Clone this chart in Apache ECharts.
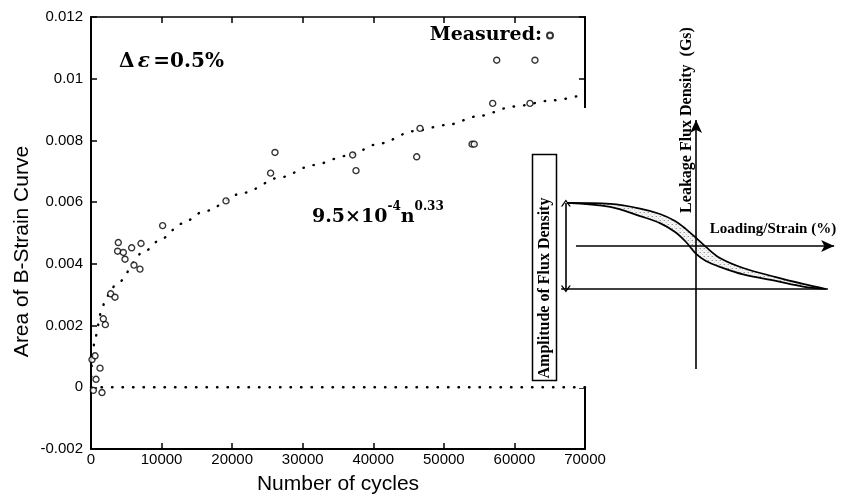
<!DOCTYPE html>
<html>
<head>
<meta charset="utf-8">
<script src="https://cdn.jsdelivr.net/npm/echarts@6/dist/echarts.min.js"></script>
<style>
  html, body { margin: 0; padding: 0; background: #fff; }
  #chart { width: 843px; height: 500px; }
</style>
</head>
<body>
<div id="chart"></div>
<script>
// Measured B-strain loop area against number of loading cycles
const cycles = [140, 330, 570, 710, 1280, 1560, 1745, 2030, 2790, 3400, 3770, 3870, 4580, 4820,
  5760, 6090, 6940, 7085, 10150, 19130, 25450, 26070, 37080, 37550, 46150, 46620,
  54000, 54300, 56920, 57490, 62200, 62910];
const area = [0.0009, -0.0001, 0.00102, 0.00026, 0.00062, -0.00017, 0.00222, 0.00203, 0.00303, 0.00292,
  0.00441, 0.00469, 0.00437, 0.00415, 0.00452, 0.00396, 0.00383, 0.00466, 0.00524, 0.00604,
  0.00694, 0.00761, 0.00753, 0.00702, 0.00747, 0.00839, 0.00788, 0.00788, 0.0092, 0.0106,
  0.0092, 0.0106];

// Power-law trend line (dotted)
const fitCycles = [0, 150, 570, 1520, 1980, 2930, 3400, 7550, 9920, 12850, 16010, 21580, 26780,
  31500, 36230, 40950, 45670, 50400, 55120, 59840, 65510, 70000];
const fitArea = [0, 0.0009, 0.0016, 0.0025, 0.0028, 0.0032, 0.0033, 0.0044, 0.0048, 0.0053, 0.0057,
  0.0063, 0.0068, 0.0072, 0.0075, 0.0079, 0.0083, 0.0085, 0.0088, 0.0091, 0.0093, 0.0095];

// Zero reference line
const zeroCycles = [0, 70000];
const zeroArea = [0, 0];

// Tick labels
const xTickLabels = ['0', '10000', '20000', '30000', '40000', '50000', '60000', '70000'];
const yTickLabels = ['-0.002', '0', '0.002', '0.004', '0.006', '0.008', '0.01', '0.012'];

// Sketch of the flux density loop (arbitrary units, 0..100)
const sketchX = [2.5, 17.9, 28.6, 35.7, 41.1, 45, 48.6, 52.1, 57.1, 65.4, 77.1, 86.8, 95];
const sketchUpper = [65.6, 65.2, 63.5, 61.5, 58.9, 55.9, 52.6, 49.3, 45.2, 41.5, 38.1, 35.6, 33.7];
const sketchLower = [65.6, 64.1, 60.7, 58.1, 54.8, 51.1, 46.7, 44.1, 41.9, 39.1, 36.7, 34.6, 33.7];

const zip = (xs, ys) => xs.map((x, i) => [x, ys[i]]);

// light stippled fill for the loop band
const stipple = document.createElement('canvas');
stipple.width = 4; stipple.height = 4;
(function () {
  const c = stipple.getContext('2d');
  c.fillStyle = '#f3f3f3'; c.fillRect(0, 0, 4, 4);
  c.fillStyle = '#9a9a9a'; c.fillRect(0, 0, 1, 1);
  c.fillStyle = '#cfcfcf'; c.fillRect(2, 2, 1, 1); c.fillRect(3, 0, 1, 1);
})();

const sansFont = '"Liberation Sans", Arial, sans-serif';
const serifFont = '"DejaVu Serif", serif';
const tsFont = '"Liberation Serif", "Times New Roman", serif';

const axisLine = { show: true, onZero: false, lineStyle: { color: '#000', width: 2 } };
const axisTick = { show: true, inside: true, length: 6, lineStyle: { color: '#000', width: 1.5 } };
const dotted = { color: '#000', width: 2.4, type: [0.5, 10], cap: 'round' };
const chevron = 'path://M0,10 L5,0 L10,10 L8.4,10 L5,3.2 L1.6,10 Z';

const chart = echarts.init(document.getElementById('chart'), null, { renderer: 'canvas' });

chart.setOption({
  animation: false,
  backgroundColor: '#fff',
  grid: [
    { left: 91, top: 17, width: 494, height: 435 },
    { left: 560, top: 110, width: 280, height: 270 }
  ],
  legend: {
    data: ['Measured:'],
    right: 289, top: 26, padding: 0,
    align: 'right', icon: 'circle', itemWidth: 6, itemHeight: 6,
    selectedMode: false,
    textStyle: { fontFamily: serifFont, fontWeight: 'bold', fontSize: 19, color: '#000' }
  },
  xAxis: [
    {
      gridIndex: 0, type: 'value', min: 0, max: 70000, interval: 10000,
      axisLine, axisTick, splitLine: { show: false },
      axisLabel: {
        color: '#000', fontFamily: sansFont, fontSize: 15, margin: 3,
        formatter: (v, i) => xTickLabels[i]
      },
      name: 'Number of cycles', nameLocation: 'middle', nameGap: 25,
      nameTextStyle: { fontFamily: sansFont, fontSize: 21, color: '#000' }
    },
    {
      gridIndex: 0, type: 'value', position: 'top', min: 0, max: 70000, interval: 10000,
      axisLine: { show: true, onZero: false, lineStyle: { color: '#000', width: 1.6 } }, axisTick,
      axisLabel: { show: false }, splitLine: { show: false }
    },
    { gridIndex: 1, type: 'value', min: 0, max: 100, show: false }
  ],
  yAxis: [
    {
      gridIndex: 0, type: 'value', min: -0.002, max: 0.012, interval: 0.002,
      axisLine, axisTick, splitLine: { show: false },
      axisLabel: {
        color: '#000', fontFamily: sansFont, fontSize: 15, margin: 8,
        formatter: (v, i) => yTickLabels[i]
      }
    },
    {
      gridIndex: 0, type: 'value', position: 'right', min: -0.002, max: 0.012, interval: 0.002,
      axisLine, axisTick, axisLabel: { show: false }, splitLine: { show: false }
    },
    { gridIndex: 1, type: 'value', min: 0, max: 100, show: false }
  ],
  series: [
    {
      name: 'zero', type: 'line', xAxisIndex: 0, yAxisIndex: 0,
      data: zip(zeroCycles, zeroArea), showSymbol: false, silent: true,
      lineStyle: dotted
    },
    {
      name: 'trend', type: 'line', xAxisIndex: 0, yAxisIndex: 0,
      data: zip(fitCycles, fitArea), showSymbol: false, silent: true,
      smooth: 0.3, smoothMonotone: 'x',
      lineStyle: dotted
    },
    {
      name: 'Measured:', type: 'scatter', xAxisIndex: 0, yAxisIndex: 0, z: 4,
      data: zip(cycles, area), symbol: 'circle', symbolSize: 6,
      itemStyle: { color: '#fff', borderColor: '#000', borderWidth: 1.4 }
    },
    // loop sketch: upper branch filled with stipple, lower branch masks below itself
    {
      name: 'loop upper', type: 'line', xAxisIndex: 2, yAxisIndex: 2, z: 2,
      data: zip(sketchX, sketchUpper), showSymbol: false, silent: true, smooth: 0.35,
      lineStyle: { color: '#000', width: 1.7 },
      areaStyle: { color: { image: stipple, repeat: 'repeat' }, opacity: 1, origin: 'start' }
    },
    {
      name: 'loop lower', type: 'line', xAxisIndex: 2, yAxisIndex: 2, z: 3,
      data: zip(sketchX, sketchLower), showSymbol: false, silent: true, smooth: 0.35,
      lineStyle: { color: '#000', width: 1.7 },
      areaStyle: { color: '#fff', opacity: 1, origin: 'start' }
    },
    {
      name: 'sketch axes', type: 'line', xAxisIndex: 2, yAxisIndex: 2, z: 4,
      data: [], silent: true,
      markLine: {
        silent: true, animation: false,
        label: { show: false },
        lineStyle: { color: '#000', width: 1.6, type: 'solid' },
        symbolSize: [9, 13],
        data: [
          [{ coord: [48.6, 4.1], symbol: 'none' }, { coord: [48.6, 96.3], symbol: 'arrow' }],
          [{ coord: [5.7, 49.6], symbol: 'none' }, { coord: [97.9, 49.6], symbol: 'arrow' }],
          [{ coord: [0.4, 33.7], symbol: 'none' }, { coord: [95.7, 33.7], symbol: 'none' }],
          [{ coord: [2.1, 65.6], symbol: chevron, symbolSize: [10, 7] },
           { coord: [2.1, 33.7], symbol: chevron, symbolSize: [10, 7] }]
        ]
      }
    }
  ],
  graphic: [
    // blank backdrop for the sketch
    { type: 'rect', z: 1, silent: true, shape: { x: 575, y: 108, width: 268, height: 280 }, style: { fill: '#fff' } },
    {
      type: 'rect', z: 3, silent: true,
      shape: { x: 532.5, y: 154.5, width: 24, height: 226 },
      style: { fill: '#fff', stroke: '#000', lineWidth: 1.5 }
    },
    {
      type: 'text', z: 4, silent: true, x: 545, y: 288, rotation: Math.PI / 2,
      style: {
        text: 'Amplitude of Flux Density', fill: '#000',
        font: 'bold 16px ' + tsFont, align: 'center', verticalAlign: 'middle'
      }
    },
    {
      type: 'text', z: 4, silent: true, x: 687, y: 120, rotation: Math.PI / 2,
      style: {
        text: 'Leakage Flux Density  (Gs)', fill: '#000',
        font: 'bold 16px ' + tsFont, align: 'center', verticalAlign: 'middle'
      }
    },
    {
      type: 'text', z: 4, silent: true, x: 773, y: 229,
      style: {
        text: 'Loading/Strain (%)', fill: '#000',
        font: 'bold 15px ' + tsFont, align: 'center', verticalAlign: 'middle'
      }
    },
    {
      type: 'text', z: 4, silent: true, x: 22, y: 251.5, rotation: Math.PI / 2,
      style: {
        text: 'Area of B-Strain Curve', fill: '#000',
        font: '21px ' + sansFont, align: 'center', verticalAlign: 'middle'
      }
    },
    {
      type: 'text', z: 4, silent: true, x: 119, y: 62,
      style: {
        text: '{d|Δ} {e|ε} {d|=0.5%}', align: 'left', verticalAlign: 'middle',
        rich: {
          d: { fontFamily: serifFont, fontWeight: 'bold', fontSize: 20, fill: '#000', color: '#000' },
          e: { fontFamily: serifFont, fontWeight: 'bold', fontStyle: 'italic', fontSize: 20, fill: '#000', color: '#000' }
        }
      }
    },
    {
      type: 'text', z: 4, silent: true, x: 312, y: 214,
      style: {
        text: '{m|9.5×10}{s|-4}{m|n}{s|0.33}', align: 'left', verticalAlign: 'middle',
        rich: {
          m: { fontFamily: serifFont, fontWeight: 'bold', fontSize: 19, lineHeight: 26, verticalAlign: 'bottom', fill: '#000', color: '#000' },
          s: { fontFamily: serifFont, fontWeight: 'bold', fontSize: 12, lineHeight: 19, verticalAlign: 'top', fill: '#000', color: '#000' }
        }
      }
    }
  ]
});
</script>
</body>
</html>
